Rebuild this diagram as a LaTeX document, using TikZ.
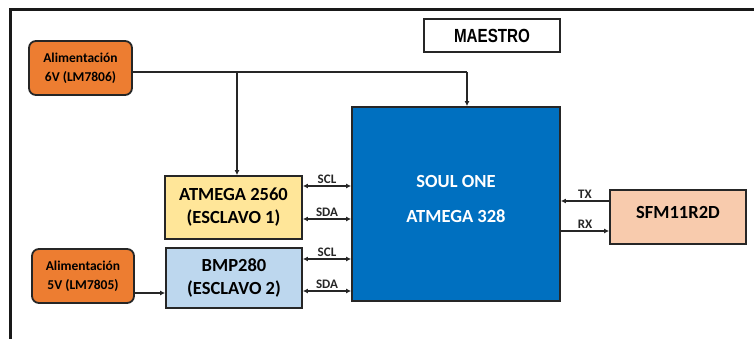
\documentclass[tikz,border=0pt]{standalone}
\usepackage{fontspec}
\setmainfont{Carlito}
\newfontfamily\narrowfont[FakeStretch=0.8]{Liberation Sans}
\usetikzlibrary{arrows.meta}
\definecolor{orng}{HTML}{ED7D31}
\definecolor{ylw}{HTML}{FFE699}
\definecolor{lblue}{HTML}{BDD7EE}
\definecolor{dblue}{HTML}{0070C0}
\definecolor{peach}{HTML}{F8CBAD}
\tikzset{
  blk/.style={draw=black!85, line width=1.8pt, rectangle, inner sep=0pt, align=center},
  pwr/.style={blk, fill=orng, rounded corners=7pt, font=\bfseries\fontsize{13.5}{19}\selectfont},
  big/.style={font=\bfseries\fontsize{18.5}{23}\selectfont},
  conn/.style={line width=1.3pt, black!85},
  tip/.style={-{Latex[length=5pt,width=5pt]}},
  btip/.style={{Latex[length=5pt,width=5pt]}-{Latex[length=5pt,width=5pt]}},
  lbl/.style={above, inner sep=1.5pt, font=\bfseries\fontsize{13}{14}\selectfont}
}
\begin{document}
\begin{tikzpicture}[x=1pt,y=-1pt]
\useasboundingbox (0,0) rectangle (754,339);
\clip (0,0) rectangle (754,339);
\draw[line width=3pt, black!90] (10.5,360) -- (10.5,9.5) -- (780,9.5);

\node[pwr, minimum width=103pt, minimum height=54pt] (pw1) at (80.5,68) {Alimentación\\6V (LM7806)};
\node[pwr, minimum width=102pt, minimum height=54pt] (pw2) at (83,276) {Alimentación\\5V (LM7805)};
\node[blk, line width=1.6pt, minimum width=136pt, minimum height=33pt, font=\narrowfont\bfseries\fontsize{19}{20}\selectfont] (mae) at (492,35.5) {MAESTRO};
\node[blk, fill=dblue, minimum width=208pt, minimum height=194pt] (soul) at (456,204) {};
\node[text=white, align=center, font=\bfseries\fontsize{18.5}{35}\selectfont] (soultxt) at (456,199) {SOUL ONE\\ATMEGA 328};
\node[blk, big, fill=ylw, minimum width=137pt, minimum height=63pt] (atm) at (233.5,207.5) {ATMEGA 2560\\(ESCLAVO 1)};
\node[blk, big, fill=lblue, minimum width=136pt, minimum height=60pt] (bmp) at (234,278) {BMP280\\(ESCLAVO 2)};
\node[blk, fill=peach, minimum width=136pt, minimum height=54pt] (sfm) at (678,217) {};
\node[big] (sfmtxt) at (678,212.5) {SFM11R2D};

\coordinate (top) at (467,72);
\draw[conn] (pw1.east |- top) -- (top);
\draw[conn, tip] (top) -- (top |- soul.north);
\draw[conn, tip] ([xshift=3.5pt]atm.north |- top) -- ([xshift=3.5pt]atm.north);
\draw[conn, tip] (pw2.east |- 0,293) -- (bmp.west |- 0,293);

\draw[conn, btip] (atm.east |- 0,186) -- node[lbl] {SCL} (soul.west |- 0,186);
\draw[conn, btip] (atm.east |- 0,219) -- node[lbl] {SDA} (soul.west |- 0,219);
\draw[conn, btip] (bmp.east |- 0,259) -- node[lbl] {SCL} (soul.west |- 0,259);
\draw[conn, btip] (bmp.east |- 0,291) -- node[lbl] {SDA} (soul.west |- 0,291);

\draw[conn, tip] (sfm.west |- 0,201) -- node[lbl] {TX} (soul.east |- 0,201);
\draw[conn, tip] (soul.east |- 0,231) -- node[lbl] {RX} (sfm.west |- 0,231);
\end{tikzpicture}
\end{document}
